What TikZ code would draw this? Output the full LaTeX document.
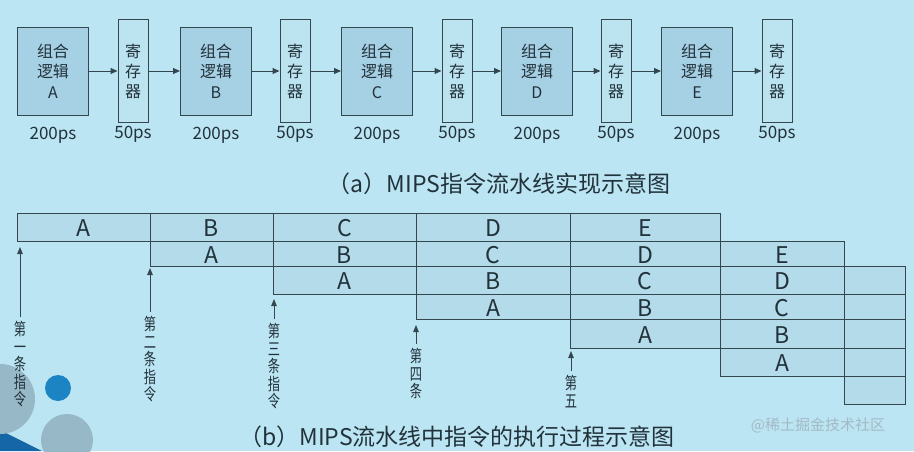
\documentclass[tikz,border=0pt]{standalone}
\usepackage{fontspec}
\setmainfont{Noto Sans CJK SC}
\newfontfamily\narrowcjk[FakeStretch=0.72]{Noto Sans CJK SC}
\usetikzlibrary{arrows.meta,positioning}
\definecolor{bgblue}{HTML}{BBE5F3}
\definecolor{boxblue}{HTML}{A6D0E3}
\definecolor{regblue}{HTML}{BCE3F0}
\definecolor{cellblue}{HTML}{B3DBE9}
\definecolor{inkdark}{HTML}{22323B}
\definecolor{linedark}{HTML}{34474F}
\definecolor{decogray}{HTML}{97B8C6}
\definecolor{decoblue}{HTML}{1C84C2}
\definecolor{decodeep}{HTML}{1566A6}
\definecolor{markgray}{HTML}{A3BAC4}
\tikzset{
  logicbox/.style={draw=linedark, line width=1pt, fill=boxblue, minimum width=71pt,
    minimum height=88pt, inner sep=0pt, align=center, text=inkdark,
    font=\fontsize{16}{20.5}\selectfont},
  regbox/.style={draw=linedark, line width=1pt, fill=regblue, minimum width=30pt,
    minimum height=103pt, inner sep=0pt, align=center, text=inkdark,
    font=\fontsize{16}{20}\selectfont},
  timelabel/.style={font=\fontsize{17}{17}\selectfont, text=inkdark, inner sep=0pt},
  flowarrow/.style={-{Triangle[length=7pt,width=6pt]}, line width=1pt, draw=linedark},
  cellline/.style={draw=linedark, line width=0.9pt, fill=cellblue},
  celltext/.style={font=\fontsize{23}{23}\selectfont, text=inkdark, inner sep=0pt},
  vlabel/.style={font=\narrowcjk\fontsize{17}{17.5}\selectfont, text=inkdark,
    align=center, inner sep=0pt, anchor=north},
  uparrow/.style={-{Triangle[length=7pt,width=5.5pt]}, line width=0.9pt, draw=linedark},
  captiontext/.style={font=\fontsize{23}{23}\selectfont, text=inkdark, inner sep=0pt}
}
\begin{document}
\begin{tikzpicture}[x=1pt,y=-1pt]
  \fill[bgblue] (0,0) rectangle (914,451);
  \useasboundingbox (0,0) rectangle (914,451);
  % round spots at the bottom left
  \begin{scope}
    \clip (0,0) rectangle (914,451);
    \fill[decodeep] (0,430) -- (42,451) -- (0,451) -- cycle;
    \fill[decogray] (0,399) circle[radius=35];
    \fill[decogray] (67,440) circle[radius=26];
    \fill[decoblue] (58,388) circle[radius=13];
  \end{scope}
  % (a) stages and registers
  \foreach \k/\lx/\rx/\n in {1/53/133/A,2/216/295/B,3/377/457/C,4/537/616/D,5/697/777/E}{
    \node[logicbox] (L\k) at (\lx,71) {组合\\逻辑\\\n};
    \node[regbox] (R\k) at (\rx,71) {寄\\存\\器};
    \node[timelabel, below=11pt of L\k] (T\k) {200ps};
    \node[timelabel, below=3pt of R\k] (S\k) {50ps};
    \draw[flowarrow] (L\k) -- (R\k);
  }
  \foreach \k [evaluate=\k as \j using int(\k+1)] in {1,...,4}
    \draw[flowarrow] (R\k) -- (L\j);
  \node[captiontext] (capa) at (499,184) {（a）MIPS指令流水线实现示意图};
  % (b) time table
  \def\colx{{17,150,273,416,570,720,844,905}}
  \def\rowy{{213,241,266,294,319,348,376,404}}
  \foreach \i in {0,...,6}{
    \pgfmathtruncatemacro\last{min(\i+4,6)}
    \foreach \c in {\i,...,\last}{
      \pgfmathsetmacro\xa{\colx[\c]}
      \pgfmathsetmacro\xb{\colx[\c+1]}
      \pgfmathsetmacro\ya{\rowy[\i]}
      \pgfmathsetmacro\yb{\rowy[\i+1]}
      \pgfmathtruncatemacro\k{\c-\i}
      \draw[cellline] (\xa,\ya) rectangle (\xb,\yb);
      \ifnum\c<6
        \node[celltext] (cell\i\c) at ({(\xa+\xb)/2},{(\ya+\yb)/2+1.5})
          {\ifcase\k A\or B\or C\or D\or E\fi};
      \fi
    }
  }
  \foreach \k/\x/\tip/\top/\txt in {1/20/247/321/第\\一\\条\\指\\令,
      2/150/268/316/第\\二\\条\\指\\令, 3/274/299/323/第\\三\\条\\指\\令,
      4/416/325/348/第\\四\\条, 5/571/351/375/第\\五}{
    \node[vlabel] (N\k) at (\x,\top) {\txt};
    \coordinate (P\k) at (\x,\tip);
    \draw[uparrow, shorten <=4pt] (N\k.north) -- (P\k);
  }
  \node[captiontext] (capb) at (457,437) {（b）MIPS流水线中指令的执行过程示意图};
  \node[font=\fontsize{15}{15}\selectfont, text=markgray, inner sep=0pt] (mark)
    at (818,425) {@稀土掘金技术社区};
\end{tikzpicture}
\end{document}
